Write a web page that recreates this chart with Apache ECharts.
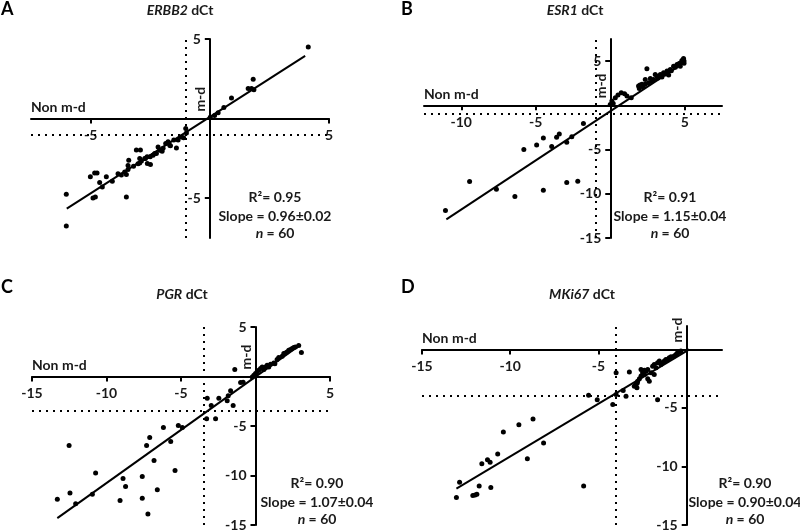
<!DOCTYPE html>
<html><head><meta charset="utf-8">
<script src="https://cdn.jsdelivr.net/npm/echarts@6/dist/echarts.min.js"></script>
<style>html,body{margin:0;padding:0;background:#fff}#c{width:800px;height:532px}</style>
</head><body><div id="c"></div>
<script>
// ---- data ----
const panelLetters = ['A', 'B', 'C', 'D'];
const geneNames = ['ERBB2', 'ESR1', 'PGR', 'MKi67'];
const r2Values = ['0.95', '0.91', '0.90', '0.90'];
const slopeValues = ['0.96\u00b10.02', '1.15\u00b10.04', '1.07\u00b10.04', '0.90\u00b10.04'];
const nValues = [60, 60, 60, 60];
const xRanges = [[-7.5, 5], [-12.5, 7.5], [-15, 5], [-15, 2]];
const yRanges = [[-7.5, 5], [-15, 7.5], [-15, 5], [-15, 2]];
const xTicks = [[-5, 5], [-10, -5, 5], [-15, -10, -5, 5], [-15, -10, -5]];
const yTicks = [[5, -5], [5, -5, -10, -15], [5, -5, -10, -15], [-5, -10, -15]];
const cutoffs = [-1, -1, -3.5, -4];

const erbb2 = [[4.13,4.5],[1.82,2.47],[1.61,1.89],[1.75,1.89],[1.85,1.82],[0.91,1.3],[0.59,0.69],[0.35,0.36],[0.02,0.08],[0.2,0.2],
[-1.01,-0.62],[-0.98,-0.9],[-1.19,-1.15],[-1.33,-1.35],[-1.4,-1.84],[-1.51,-1.35],[-1.68,-1.67],[-1.75,-1.46],[-1.85,-1.56],[-1.96,-1.87],
[-2.1,-1.99],[-2.17,-1.78],[-2.31,-2.19],[-2.24,-2.2],[-2.38,-2.3],[-2.49,-2.88],[-2.62,-2.82],[-2.63,-2.4],[-2.73,-2.5],[-2.87,-2.67],
[-2.94,-2.5],[-3.08,-1.98],[-2.91,-1.98],[-2.94,-2.79],[-3.01,-2.83],[-3.4,-2.61],[-3.43,-3.2],[-3.5,-3.51],[-3.57,-3.35],[-3.71,-3.55],
[-3.43,-2.94],[-3.5,-4.92],[-3.85,-3.46],[-4.09,-3.93],[-4.34,-3.66],[-4.51,-4.29],[-4.62,-4.01],[-4.83,-3.41],[-4.73,-3.41],[-5.01,-3.66],
[-4.9,-4.98],[-4.8,-4.92],[-6.02,-4.75],[-6.02,-6.75],[-1.1,-1.2],[-1.65,-1.7],[-2.0,-2.05],[-2.5,-2.4],[-3.2,-3.0],[-2.7,-2.5]];
const esr1 = [[-11.06,-11.9],[-9.44,-8.6],[-7.64,-9.48],[-6.4,-10.3],[-4.49,-9.6],[-2.92,-8.73],[-2.18,-8.58],[-5.8,-5.0],[-4.94,-4.48],[-4.49,-3.69],
[-3.93,-4.66],[-3.6,-3.62],[-3.42,-3.25],[-2.92,-4.18],[-2.58,-3.54],[-1.8,-2.05],[0,0.1],[0.11,0.48],[0.34,0.86],[0.52,1.16],
[0.74,1.42],[0.96,1.31],[1.12,1.05],[1.41,0.86],[1.9,2.18],[2.13,2.37],[2.35,2.37],[2.57,2.55],[2.69,3.04],[2.91,2.93],
[3.14,3.3],[3.36,3.49],[3.58,3.68],[3.81,3.87],[4.03,4.06],[4.25,4.43],[4.48,4.62],[4.7,4.8],[4.81,5.07],[4.92,5.3],
[4.7,4.43],[4.37,4.32],[3.92,3.42],[3.47,3.19],[3.02,3.49],[2.8,2.74],[2.35,2.93],[2.46,4.13],[4.9,5.15],[4.85,4.95],
[4.95,5.0],[4.6,4.7],[3.2,3.1],[2.2,2.1],[1.95,1.9],[4.1,3.9],[3.7,3.55],[4.95,4.75],[2.0,2.3],[0.2,0.2]];
const pgr = [[-13.3,-12.39],[-12.51,-6.97],[-12.45,-11.78],[-12.07,-12.86],[-10.95,-11.89],[-10.73,-9.76],[-9.09,-12.52],[-8.89,-10.3],[-8.72,-11.11],[-7.6,-10.1],
[-7.6,-12.29],[-7.31,-6.97],[-7.22,-13.9],[-7.1,-6.16],[-6.81,-8.48],[-6.59,-11.45],[-6.18,-5.15],[-5.69,-6.57],[-5.4,-9.49],[-5.18,-4.95],
[-4.91,-5.15],[-3.28,-4.28],[-3.24,-2.19],[-2.97,-2.93],[-2.68,-4.28],[-2.46,-2.19],[-1.9,-2.46],[-1.83,-1.95],[-1.67,-1.45],[-1.5,-2.93],
[-1.39,0.7],[-1.0,-0.61],[-0.83,-0.57],[-0.22,-0.04],[-0.11,0.13],[0,0.3],[0.11,0.47],[0.22,0.64],[0.34,0.81],[0.45,0.97],
[0.56,0.7],[0.67,0.97],[0.78,1.14],[0.89,0.97],[1.01,1.24],[1.23,1.37],[1.45,1.71],[1.56,1.91],[1.79,2.05],[1.9,2.32],
[2.01,2.38],[2.12,2.48],[2.23,2.65],[2.35,2.72],[2.46,2.82],[2.57,2.92],[2.68,2.98],[2.9,3.12],[3.08,2.42],[1.3,1.3]];
const mki67 = [[-13.05,-12.66],[-12.87,-11.34],[-12.12,-12.49],[-11.99,-12.43],[-11.89,-12.37],[-11.76,-11.66],[-11.61,-9.77],[-11.29,-9.43],[-11.14,-9.63],[-11.1,-11.8],
[-10.71,-8.94],[-10.39,-7.06],[-9.51,-6.43],[-9.03,-9.34],[-8.71,-5.94],[-8.11,-8.0],[-5.84,-11.66],[-5.56,-3.91],[-5.07,-4.29],[-4.19,-4.71],
[-4.0,-2.0],[-4.0,-3.85],[-3.44,-4.0],[-3.25,-1.94],[-1.65,-4.29],[-2.97,-3.14],[-2.87,-3.0],[-2.82,-3.28],[-2.78,-2.71],[-2.68,-2.51],
[-2.59,-2.28],[-2.5,-2.0],[-2.4,-2.14],[-2.31,-1.86],[-2.21,-1.71],[-2.12,-2.71],[-2.02,-2.0],[-1.93,-1.43],[-1.84,-1.28],[-1.74,-1.57],
[-1.65,-1.14],[-1.55,-1.0],[-1.46,-1.28],[-1.37,-1.14],[-1.27,-1.0],[-1.18,-0.86],[-1.08,-0.86],[-0.99,-0.71],[-0.89,-0.63],[-0.71,-0.57],
[-0.61,-0.43],[-0.52,-0.29],[-0.42,-0.23],[-0.33,-0.14],[-2.4,-1.77],[-2.59,-1.71],[-2.8,-2.86],[-1.84,-2.14],[-2.21,-2.51],[-3.6,-3.5]];
const fitLines = [
  [[-6.0, -5.66], [4.0, 3.94]],
  [[-11.0, -12.9], [5.05, 4.95]],
  [[-13.3, -14.3], [3.0, 3.2]],
  [[-13.05, -11.9], [0.15, 0.0]]
];
const panelData = [erbb2, esr1, pgr, mki67];

// ---- layout ----
const grids = [
  {left: 31, top: 39, width: 298, height: 199},
  {left: 424, top: 39, width: 298, height: 199},
  {left: 32, top: 327, width: 298, height: 198},
  {left: 422, top: 326, width: 300, height: 199}
];
const letterPos = [[1, 9], [401, 9], [1, 287], [401, 287]];
const titlePos = [[180, 10], [575, 10], [182, 294], [582, 294]];
const annotPos = [[275, 197], [670, 197], [317, 483], [745, 483]];

const FONT = 'Lato, "Open Sans", sans-serif';
const TXT = '#1a1a1a';

const chart = echarts.init(document.getElementById('c'), null, {renderer: 'canvas'});

const xAxes = [], yAxes = [], series = [];
for (let i = 0; i < 4; i++) {
  const g = grids[i];
  // shift each axis so that it crosses the other axis at 0
  const xOff = -g.height * (0 - yRanges[i][0]) / (yRanges[i][1] - yRanges[i][0]);
  const yOff = -g.width * (0 - xRanges[i][0]) / (xRanges[i][1] - xRanges[i][0]);
  xAxes.push({
    gridIndex: i, type: 'value', min: xRanges[i][0], max: xRanges[i][1],
    position: 'bottom', offset: xOff,
    axisLine: {onZero: false, lineStyle: {color: '#000', width: 2}},
    axisTick: {show: true, customValues: xTicks[i], length: 5, lineStyle: {color: '#000', width: 2}},
    axisLabel: {customValues: xTicks[i], margin: 10, color: TXT, fontFamily: FONT, fontWeight: 'bold', fontSize: 14},
    splitLine: {show: false}
  });
  yAxes.push({
    gridIndex: i, type: 'value', min: yRanges[i][0], max: yRanges[i][1],
    position: 'left', offset: yOff,
    axisLine: {onZero: false, lineStyle: {color: '#000', width: 2}},
    axisTick: {show: true, customValues: yTicks[i], length: 5, lineStyle: {color: '#000', width: 2}},
    axisLabel: {customValues: yTicks[i], margin: 9, color: TXT, fontFamily: FONT, fontWeight: 'bold', fontSize: 14},
    splitLine: {show: false}
  });
  series.push({
    type: 'scatter', xAxisIndex: i, yAxisIndex: i, data: panelData[i],
    symbolSize: 5, itemStyle: {color: '#000', opacity: 1}, silent: true,
    markLine: {
      silent: true, symbol: 'none', label: {show: false},
      lineStyle: {color: '#000', type: [2, 5], width: 2},
      data: [{xAxis: cutoffs[i]}, {yAxis: cutoffs[i]}]
    }
  });
  series.push({
    type: 'line', xAxisIndex: i, yAxisIndex: i, data: fitLines[i],
    symbol: 'none', silent: true, lineStyle: {color: '#000', width: 2}
  });
}

chart.setOption({
  animation: false,
  backgroundColor: '#fff',
  grid: grids.map(g => Object.assign({containLabel: false}, g)),
  xAxis: xAxes, yAxis: yAxes, series: series
});

const graphics = [];
for (let i = 0; i < 4; i++) {
  graphics.push({type: 'text', x: letterPos[i][0], y: letterPos[i][1],
    style: {text: panelLetters[i], fill: '#000', fontFamily: FONT, fontWeight: 'bold', fontSize: 18, textAlign: 'left', textVerticalAlign: 'middle'}});
  graphics.push({type: 'text', x: titlePos[i][0], y: titlePos[i][1],
    style: {text: '{it|' + geneNames[i] + '} dCt', fill: TXT, fontFamily: FONT, fontWeight: 'bold', fontSize: 14,
      textAlign: 'center', textVerticalAlign: 'middle',
      rich: {it: {fontStyle: 'italic', fontFamily: FONT, fontWeight: 'bold', fontSize: 14, fill: TXT}}}});
  const a = annotPos[i];
  graphics.push({type: 'text', x: a[0], y: a[1],
    style: {text: 'R\u00b2= ' + r2Values[i], fill: TXT, fontFamily: FONT, fontWeight: 'bold', fontSize: 14, textAlign: 'center', textVerticalAlign: 'middle'}});
  graphics.push({type: 'text', x: a[0], y: a[1] + 19,
    style: {text: 'Slope = ' + slopeValues[i], fill: TXT, fontFamily: FONT, fontWeight: 'bold', fontSize: 14, textAlign: 'center', textVerticalAlign: 'middle'}});
  graphics.push({type: 'text', x: a[0], y: a[1] + 36,
    style: {text: '{it|n} = ' + nValues[i], fill: TXT, fontFamily: FONT, fontWeight: 'bold', fontSize: 14, textAlign: 'center', textVerticalAlign: 'middle',
      rich: {it: {fontStyle: 'italic', fontFamily: FONT, fontWeight: 'bold', fontSize: 14, fill: TXT}}}});
  const o = chart.convertToPixel({gridIndex: i}, [0, 0]);
  const l = chart.convertToPixel({gridIndex: i}, [xRanges[i][0], 0]);
  graphics.push({type: 'text', x: l[0], y: o[1] - 4,
    style: {text: 'Non m-d', fill: TXT, fontFamily: FONT, fontWeight: 'bold', fontSize: 14, textAlign: 'left', textVerticalAlign: 'bottom'}});
  graphics.push({type: 'text', x: o[0] - 9, y: o[1] - 7, rotation: Math.PI / 2,
    style: {text: 'm-d', fill: TXT, fontFamily: FONT, fontWeight: 'bold', fontSize: 14, textAlign: 'left', textVerticalAlign: 'middle'}});
}
chart.setOption({graphic: graphics});
</script>
</body></html>
